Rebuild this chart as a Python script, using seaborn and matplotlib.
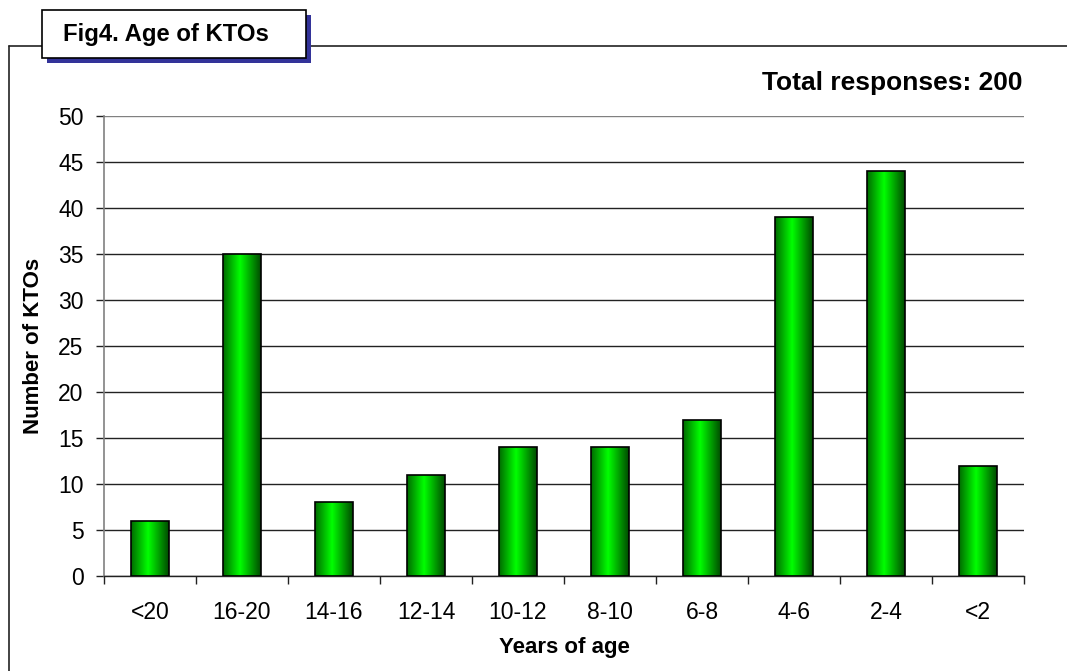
import numpy as np
import pandas as pd
import matplotlib
matplotlib.use("Agg")
import matplotlib.pyplot as plt
from matplotlib.patches import Rectangle
from matplotlib.lines import Line2D
from matplotlib.colors import LinearSegmentedColormap
import seaborn as sns

# Age groups (years) and number of KTOs in each
age_groups = ["<20", "16-20", "14-16", "12-14", "10-12", "8-10", "6-8", "4-6", "2-4", "<2"]
kto_counts = [6, 35, 8, 11, 14, 14, 17, 39, 44, 12]
y_ticks = [0, 5, 10, 15, 20, 25, 30, 35, 40, 45, 50]

title_text = "Fig4. Age of KTOs"
total_text = "Total responses: 200"
x_label = "Years of age"
y_label = "Number of KTOs"

sns.set_theme(style="white")
plt.rcParams["font.family"] = ["Liberation Sans", "DejaVu Sans"]

W, H = 1067, 671
fig = plt.figure(figsize=(W / 100, H / 100), dpi=100)
fig.patch.set_facecolor("white")


def fx(px):
    return px / W


def fy(py):
    return 1 - py / H


ax = fig.add_axes([fx(104), fy(576), fx(1024) - fx(104), fy(116) - fy(576)])

df = pd.DataFrame({"age": age_groups, "count": kto_counts})
sns.barplot(data=df, x="age", y="count", order=age_groups, color="#00cc00",
            width=0.41, edgecolor="black", linewidth=1.2, ax=ax, zorder=3)

# Horizontal shading inside each bar: dark edges, bright centre
grad_cmap = LinearSegmentedColormap.from_list(
    "barshade", [(0.0, "#006a00"), (0.45, "#00ff00"), (1.0, "#004a00")])
grad = np.linspace(0, 1, 256).reshape(1, -1)
for p in ax.patches:
    x0, w, h = p.get_x(), p.get_width(), p.get_height()
    im = ax.imshow(grad, cmap=grad_cmap, aspect="auto",
                   extent=[x0, x0 + w, 0, h], zorder=3.5)
    im.set_clip_path(p)
    p.set_facecolor("none")
    p.set_zorder(4)

ax.set_xlim(-0.5, len(age_groups) - 0.5)
ax.set_ylim(0, 50)
ax.set_yticks(y_ticks)
ax.set_yticklabels([str(t) for t in y_ticks])
ax.yaxis.grid(True, color="#222222", linewidth=1.0, zorder=1)
ax.xaxis.grid(False)
ax.set_axisbelow(True)
# the top rule of the plot area is lighter than the inner grid lines
ax.get_ygridlines()[-1].set_color("#808080")

for side in ["top", "right"]:
    ax.spines[side].set_visible(False)
ax.spines["left"].set_color("#808080")
ax.spines["left"].set_linewidth(1.2)
ax.spines["bottom"].set_color("#222222")
ax.spines["bottom"].set_linewidth(1.0)

# Category ticks sit on the boundaries between groups
ax.set_xticks(np.arange(-0.5, len(age_groups), 1.0), minor=False)
ax.set_xticklabels([])
ax.set_xticks(np.arange(len(age_groups)), minor=True)
ax.set_xticklabels(age_groups, minor=True)
ax.tick_params(axis="x", which="major", direction="out", length=5.8, width=1.0,
               color="#222222", bottom=True)
ax.tick_params(axis="x", which="minor", length=0, labelsize=16.5, pad=18,
               labelcolor="black")
ax.tick_params(axis="y", direction="out", length=5.8, width=1.0, color="#222222",
               left=True, labelsize=16.5, pad=9, labelcolor="black")

ax.set_xlabel(x_label, fontsize=16, fontweight="bold", labelpad=9, color="black")
ax.set_ylabel(y_label, fontsize=16, fontweight="bold", labelpad=10, color="black")

# Outer frame: top rule and left rule
fig.add_artist(Line2D([fx(9), 1.0], [fy(46), fy(46)], color="#222222", linewidth=1.2))
fig.add_artist(Line2D([fx(9), fx(9)], [fy(46), 0.0], color="#222222", linewidth=1.2))

# Title box with offset shadow
fig.add_artist(Rectangle((fx(47), fy(63)), fx(306) - fx(42), fy(10) - fy(58),
                         transform=fig.transFigure, facecolor="#333399",
                         edgecolor="none", zorder=5))
fig.add_artist(Rectangle((fx(42), fy(58)), fx(306) - fx(42), fy(10) - fy(58),
                         transform=fig.transFigure, facecolor="white",
                         edgecolor="black", linewidth=1.2, zorder=6))
fig.text(fx(63), fy(35), title_text, fontsize=17.2, fontweight="bold",
         ha="left", va="center", color="black", zorder=7)

fig.text(fx(1022), fy(83), total_text, fontsize=19, fontweight="bold",
         ha="right", va="center", color="black")

fig.savefig("out.png", dpi=100, facecolor="white")
